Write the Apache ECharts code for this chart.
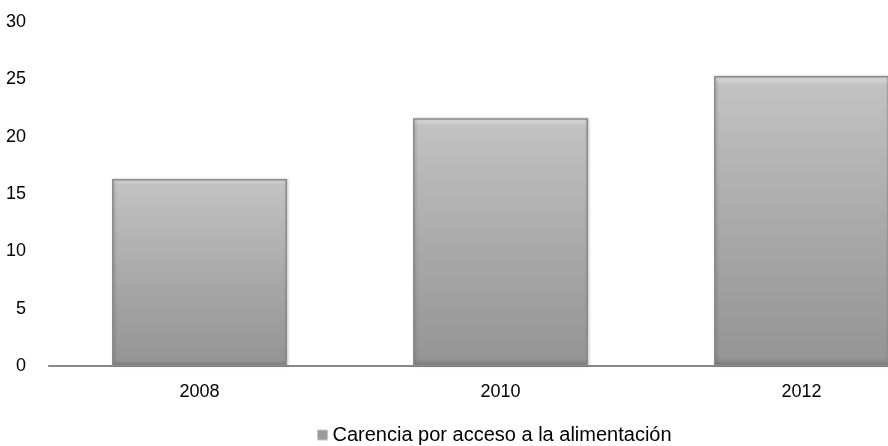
<!DOCTYPE html>
<html>
<head>
<meta charset="utf-8">
<script src="https://cdn.jsdelivr.net/npm/echarts@6/dist/echarts.min.js"></script>
<style>html,body{margin:0;padding:0;background:#fff}#c{width:888px;height:446px}</style>
</head>
<body>
<div id="c"></div>
<script>
const categories = ['2008', '2010', '2012'];
const values = [16.3, 21.6, 25.3];
const seriesName = 'Carencia por acceso a la alimentación';
const yTicks = [0, 5, 10, 15, 20, 25, 30];

const chart = echarts.init(document.getElementById('c'));
const font = '"Liberation Sans", Arial, sans-serif';
chart.setOption({
  animation: false,
  grid: { left: 49, top: 22, width: 903, height: 344, containLabel: false, outerBoundsMode: 'none' },
  legend: {
    top: 425, left: 312,
    padding: [0, 5],
    data: [seriesName],
    icon: 'rect', itemWidth: 10, itemHeight: 10, itemGap: 1,
    itemStyle: { color: '#9a9a9a', borderColor: '#c8c8c8', borderWidth: 1 },
    textStyle: { fontFamily: font, fontSize: 20, color: '#000' }
  },
  xAxis: {
    type: 'category', data: categories,
    axisLine: { lineStyle: { color: '#888', width: 2 } },
    axisTick: { show: false },
    axisLabel: { fontFamily: font, fontSize: 18, color: '#000', margin: 17 }
  },
  yAxis: {
    type: 'value', min: yTicks[0], max: yTicks[yTicks.length - 1], interval: 5,
    axisLine: { show: false }, axisTick: { show: false },
    splitLine: { show: false },
    axisLabel: { fontFamily: font, fontSize: 18, color: '#000', margin: 23, align: 'right' }
  },
  series: [{
    name: seriesName, type: 'bar', data: values, barWidth: 175,
    itemStyle: {
      color: new echarts.graphic.LinearGradient(0, 0, 0, 1, [
        { offset: 0, color: '#e4e4e4' },
        { offset: 0.03, color: '#c2c2c2' },
        { offset: 0.5, color: '#aaaaaa' },
        { offset: 0.97, color: '#959595' },
        { offset: 1, color: '#7d7d7d' }
      ]),
      borderColor: '#8c8c8c', borderWidth: 1.5,
      shadowColor: 'rgba(0,0,0,0.25)', shadowBlur: 3, shadowOffsetX: 1
    }
  }]
});
</script>
</body>
</html>
